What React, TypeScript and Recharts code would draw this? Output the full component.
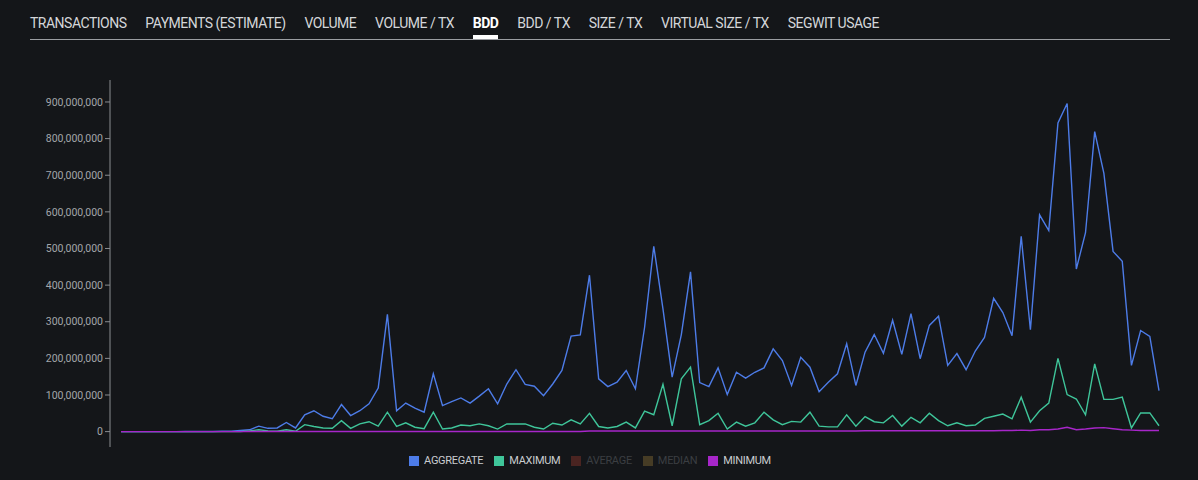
import React from 'react';
import { LineChart, Line, XAxis, YAxis } from 'recharts';

// BDD per period, in millions
const aggregate = [
  0, 0, 0, 0, 0, 0, 0, 0.3, 0.3, 0.5, 0.5, 1, 1, 3, 5, 15, 9, 10, 25, 10,
  46, 57, 42, 35, 74, 44, 57, 76, 119, 320, 57, 78, 64, 53, 158, 71, 82, 92, 78, 97,
  117, 76, 130, 169, 129, 124, 98, 130, 167, 261, 264, 427, 144, 123, 135, 167, 117, 285, 506, 335,
  149, 265, 436, 134, 123, 174, 101, 162, 146, 162, 174, 226, 194, 126, 203, 176, 109, 135, 158, 240,
  126, 217, 265, 214, 304, 211, 322, 199, 290, 315, 181, 213, 169, 220, 257, 364, 325, 262, 533, 278,
  592, 549, 843, 896, 444, 543, 819, 705, 492, 465, 181, 276, 260, 112,
];
const maximum = [
  0, 0, 0, 0, 0, 0, 0, 0, 0, 0, 0, 0, 0, 0, 2, 5, 2, 1, 5, 1,
  19, 14, 10, 9, 30, 9, 21, 27, 15, 53, 14, 24, 12, 8, 53, 7, 10, 18, 16, 21,
  16, 7, 21, 21, 21, 12, 7, 23, 18, 32, 21, 50, 14, 10, 14, 26, 10, 56, 46, 129,
  16, 144, 176, 19, 30, 50, 7, 26, 15, 24, 53, 32, 19, 28, 26, 53, 15, 13, 13, 46,
  15, 41, 27, 24, 44, 15, 39, 24, 50, 30, 16, 24, 16, 18, 36, 42, 48, 35, 94, 26,
  57, 78, 200, 101, 89, 46, 185, 88, 88, 94, 10, 51, 51, 16,
];
const minimum = [
  0, 0, 0, 0, 0, 0, 0, 0, 0, 0, 0, 0, 0, 0, 0.5, 0.5, 0.5, 0.5, 0.5, 0.5,
  0.5, 0.5, 0.5, 0.5, 0.5, 0.5, 0.5, 0.5, 0.5, 0.5, 0.5, 0.5, 0.5, 0.5, 0.5, 0.5, 0.5, 0.5, 0.5, 0.5,
  0.5, 0.5, 0.5, 0.5, 0.5, 0.5, 0.5, 0.5, 0.5, 0.5, 0.5, 1.5, 1.5, 1.5, 1.5, 1.5, 1.5, 1.5, 1.5, 1.5,
  1.5, 1.5, 1.5, 1.5, 1.5, 1.5, 1.5, 1.5, 1.5, 1.5, 1.5, 1.5, 1.5, 1.5, 1.5, 1.5, 1.5, 1.5, 1.5, 1.5,
  1.5, 2.5, 2.5, 2.5, 2.5, 2.5, 2.5, 2.5, 2.5, 2.5, 2.5, 2.5, 2.5, 2.5, 2.5, 2.5, 3, 3, 4, 3,
  5, 5, 7, 12, 5, 7, 10, 11, 8, 5, 4, 3, 3, 3,
];

const yTicks = [0, 100, 200, 300, 400, 500, 600, 700, 800, 900].map(v => v * 1e6);

const tabs = [
  'TRANSACTIONS', 'PAYMENTS (ESTIMATE)', 'VOLUME', 'VOLUME / TX', 'BDD',
  'BDD / TX', 'SIZE / TX', 'VIRTUAL SIZE / TX', 'SEGWIT USAGE',
];
const activeTab = 'BDD';

const legendItems = [
  { name: 'AGGREGATE', color: '#4d7ce8', active: true },
  { name: 'MAXIMUM', color: '#3fc59a', active: true },
  { name: 'AVERAGE', color: '#4a2421', active: false },
  { name: 'MEDIAN', color: '#463c25', active: false },
  { name: 'MINIMUM', color: '#a726c9', active: true },
];

const chartData = aggregate.map((a, i) => ({
  idx: i,
  aggregate: a * 1e6,
  maximum: maximum[i] * 1e6,
  minimum: minimum[i] * 1e6,
}));

const BG = '#141619';
const FONT = 'Roboto, "Noto Sans", sans-serif';

const App: React.FC = () => {
  return (
    <div style={{ position: 'fixed', left: 0, top: 0, width: 1198, height: 480, background: BG, fontFamily: FONT, overflow: 'hidden' }}>
      {/* tab bar */}
      <div style={{ position: 'absolute', left: 30, top: 0, width: 1140, height: 39, borderBottom: '1px solid #9a9da1' }}>
        <div style={{ display: 'flex', gap: 18.8, paddingTop: 13 }}>
          {tabs.map(t => (
            <div key={t} style={{ position: 'relative', height: 26 }}>
              <span style={{
                fontSize: 14,
                letterSpacing: -0.5,
                color: t === activeTab ? '#ffffff' : '#d4d6d9',
                fontWeight: t === activeTab ? 700 : 400,
                whiteSpace: 'nowrap',
              }}>{t}</span>
              {t === activeTab && (
                <div style={{ position: 'absolute', left: 0, right: 0, bottom: 0, height: 4, background: '#ffffff' }} />
              )}
            </div>
          ))}
        </div>
      </div>

      <div style={{ position: 'absolute', left: 0, top: 0 }}>
        <LineChart width={1198} height={480} data={chartData} margin={{ top: 80, right: 28, left: 10, bottom: 33 }}>
          <XAxis dataKey="idx" hide padding={{ left: 11, right: 11 }} />
          <YAxis
            width={100}
            domain={[-42e6, 960e6]}
            ticks={yTicks}
            allowDataOverflow
            tickFormatter={(v: number) => v.toLocaleString('en-US')}
            stroke="#8a8d91"
            tick={{ fill: '#a3a6aa', fontSize: 10.5, fontFamily: FONT }}
            tickSize={5}
          />
          <Line type="linear" dataKey="aggregate" stroke="#4d7ce8" strokeWidth={1.4} dot={false} isAnimationActive={false} />
          <Line type="linear" dataKey="maximum" stroke="#3fc59a" strokeWidth={1.4} dot={false} isAnimationActive={false} />
          <Line type="linear" dataKey="minimum" stroke="#a726c9" strokeWidth={1.4} dot={false} isAnimationActive={false} />
        </LineChart>
      </div>

      {/* legend */}
      <div style={{ position: 'absolute', left: 0, width: 1180, top: 454, display: 'flex', justifyContent: 'center', gap: 11 }}>
        {legendItems.map(it => (
          <div key={it.name} style={{ display: 'flex', alignItems: 'center', gap: 5 }}>
            <div style={{ width: 10, height: 10, background: it.color }} />
            <span style={{ fontSize: 11, letterSpacing: -0.3, color: it.active ? '#c9ccd0' : '#3b3e42' }}>{it.name}</span>
          </div>
        ))}
      </div>
    </div>
  );
};

export default App;
